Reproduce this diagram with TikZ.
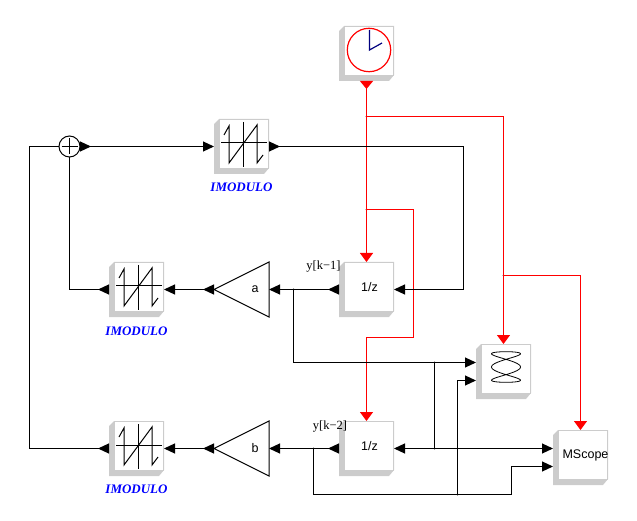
\documentclass[tikz,border=0pt]{standalone}
\usepackage{fontspec}
\setmainfont{Liberation Serif}
\setsansfont{Liberation Sans}
\usetikzlibrary{arrows.meta, shapes.geometric}

\definecolor{shadegray}{HTML}{CCCCCC}
\definecolor{handblue}{HTML}{000080}

\tikzset{
    blockbox/.style={minimum size=55pt, inner sep=0pt, outer sep=0pt, path picture={
        \fill[shadegray] (path picture bounding box.north east) ++(-50,0) -- ++(-5,5)
            -- ++(0,50) -- ++(50,0) -- ++(5,-6) -- ++(0,-49) -- cycle;
        \draw[shadegray, fill=white] (path picture bounding box.north east) ++(-0.5,0.5)
            rectangle ++(-49,49);
    }},
    facetext/.style={xshift=3pt, yshift=2.5pt, font=\sffamily\fontsize{12.5}{12.5}\selectfont},
    gainbox/.style={draw, line width=1pt, shape=isosceles triangle, shape border rotate=180,
        isosceles triangle stretches, minimum width=55pt, minimum height=55pt,
        inner sep=0pt, outer sep=0pt},
    modlabel/.style={text=blue, font=\bfseries\itshape\fontsize{13}{13}\selectfont},
    ylabel/.style={font=\fontsize{12.5}{12.5}\selectfont},
    junction/.style={circle, fill=black, minimum size=2pt, inner sep=0pt, outer sep=0pt},
    wire/.style={line width=1.1pt},
    inwire/.style={wire, -{Triangle[length=11pt, width=10pt]}},
    outwire/.style={wire, {Triangle[reversed, length=11pt, width=10pt]}-},
    bothwire/.style={wire, {Triangle[reversed, length=11pt, width=10pt]}-{Triangle[length=11pt, width=10pt]}},
    redin/.style={line width=1.1pt, draw=red, -{Triangle[length=9pt, width=13pt]}},
}

\begin{document}
\begin{tikzpicture}[x=1pt, y=-1pt]
    \useasboundingbox (0, 0) rectangle (637, 521);

    \node[blockbox] at (366.5, 53.5)    (clock) {};

    \node[blockbox] at (241.5, 146.5)   (mod1) {};
    \node[blockbox] at (136.5, 289.5)   (mod2) {};
    \node[blockbox] at (136.5, 448.5)   (mod3) {};

    \node[blockbox, label={[facetext]center:1/z}] at (366.5, 289.5)   (z1) {};
    \node[blockbox, label={[facetext]center:1/z}] at (366.5, 448.5)   (z2) {};

    \node[blockbox] at (503.5, 371.5)   (hist) {};
    \node[blockbox, label={[facetext, xshift=2pt]center:MScope}] at (580.5, 457.5)   (mscope) {};

    \node[gainbox, anchor=apex] at (214, 289.5)   (gaina) {};
    \node[gainbox, anchor=apex] at (214, 448.5)   (gainb) {};
    \node[font=\sffamily\fontsize{12.5}{12.5}\selectfont] at (255, 289.5)   (texta) {a};
    \node[font=\sffamily\fontsize{12.5}{12.5}\selectfont] at (255, 448)     (textb) {b};

    \node[draw, circle, line width=1pt, minimum size=21pt, inner sep=0pt, outer sep=0pt] at (69.5, 146.5)   (sum) {};
    \draw[line width=1pt] (61.5, 146.5) -- (77.5, 146.5);
    \draw[line width=1pt] (69.5, 138.5) -- (69.5, 154.5);

    \node[modlabel] at (241.5, 187)   (lab1) {IMODULO};
    \node[modlabel] at (136.5, 331)   (lab2) {IMODULO};
    \node[modlabel] at (136.5, 489)   (lab3) {IMODULO};
    \node[ylabel] at (323.5, 267)     (lab4) {y[k−1]};
    \node[ylabel] at (330, 427)       (lab5) {y[k−2]};

    % symbols inside the blocks
    \foreach \b in {mod1, mod2, mod3} {
        \begin{scope}[shift={(\b.center)}]
            \draw[line width=1pt] (-20.5, -3.5) -- (25.5, -3.5);
            \draw[line width=1pt] (2, -24.5) -- (2, 20.5);
            \draw[line width=1pt] (-17.5, -11.5) -- (-12.5, -20.5) -- (-12.5, 16.5)
                -- (15.5, -21.5) -- (15.5, 16.5) -- (21.5, 8.5);
        \end{scope}
    }
    \draw[red, line width=1.2pt] (369, 50) circle (21.7);
    \draw[handblue, line width=1.2pt] (369.5, 30) -- (369.5, 50) -- (382, 43);
    \draw[line width=0.8pt] plot[domain=0:360, samples=121, smooth]
        ({506 + 14.5*sin(3*\x)}, {367 - 15.3*cos(\x)});

    \coordinate (histin1) at ([yshift=9pt]hist.west);
    \coordinate (histin2) at ([yshift=-9pt]hist.west);
    \coordinate (scopein1) at ([yshift=9pt]mscope.west);
    \coordinate (scopein2) at ([yshift=-9pt]mscope.west);

    \node[junction] at (366.5, 116.5)   (clk1) {};
    \node[junction] at (366.5, 209.5)   (clk2) {};
    \node[junction] at (503.5, 275.5)   (clk3) {};
    \node[junction] at (293.5, 289.5)   (y1) {};
    \node[junction] at (434.5, 362.5)   (y1h) {};
    \node[junction] at (434.5, 448.5)   (y1z) {};
    \node[junction] at (313.5, 448.5)   (y2) {};
    \node[junction] at (457.5, 494.5)   (y2h) {};

    % red event lines go under the black ones
    \draw[redin, {Triangle[reversed, length=8pt, width=13pt]}-{Triangle[length=9pt, width=13pt]}] (clock.south) -- (z1.north);
    \draw[redin] (clk1.center) -| (hist.north);
    \draw[redin] (clk3.center) -| (mscope.north);
    \draw[redin] (clk2.center) -| (413.5, 337.5) -| (z2.north);

    \draw[bothwire] (sum.east) -- (mod1.west);
    \draw[bothwire] (mod1.east) -| (463.5, 289.5) -- (z1.east);
    \draw[bothwire] (z1.west) -- (gaina.lower side);
    \draw[bothwire] (gaina.apex) -- (mod2.east);
    \draw[outwire] (mod2.west) -| (sum.south);

    \draw[bothwire] (z2.west) -- (gainb.lower side);
    \draw[bothwire] (gainb.apex) -- (mod3.east);
    \draw[outwire] (mod3.west) -| (29.5, 146.5) -- (sum.west);

    \draw[inwire] (y1.center) |- (histin1);
    \draw[wire] (y1h.center) -- (y1z.center);
    \draw[inwire] (y1z.center) -- (z2.east);
    \draw[inwire] (y1z.center) -- (scopein1);
    \draw[inwire] (y2.center) |- (511.5, 494.5) |- (scopein2);
    \draw[inwire] (y2h.center) |- (histin2);
\end{tikzpicture}
\end{document}
